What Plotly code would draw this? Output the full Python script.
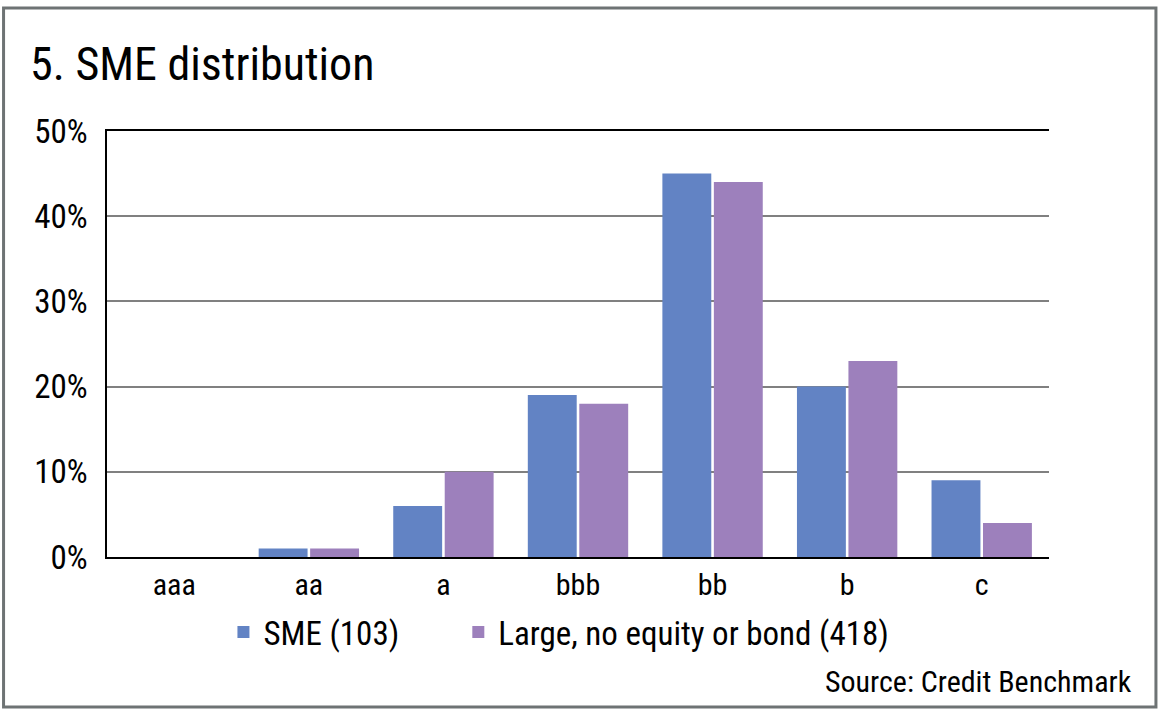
import plotly.graph_objects as go

categories = ["aaa", "aa", "a", "bbb", "bb", "b", "c"]
sme_values = [0, 1, 6, 19, 45, 20, 9]
large_values = [0, 1, 10, 18, 44, 23, 4]
series_names = ["SME (103)", "Large, no equity or bond (418)"]
y_ticks = [0, 10, 20, 30, 40, 50]
y_tick_labels = ["0%", "10%", "20%", "30%", "40%", "50%"]

FONT = "Liberation Sans Narrow, Roboto Condensed, DejaVu Sans Condensed, sans-serif"

fig = go.Figure()
fig.add_trace(go.Bar(x=categories, y=sme_values, name=series_names[0], legend="legend",
                     marker=dict(color="#6283C4", line=dict(width=0))))
fig.add_trace(go.Bar(x=categories, y=large_values, name=series_names[1], legend="legend2",
                     marker=dict(color="#9D80BC", line=dict(width=0))))

L, R, T, B = 106.5, 1049, 131, 557
W, H = 1160, 716
pw, ph = R - L, B - T

def px_x(x):
    return (x - L) / pw

def px_y(y):
    return (B - y) / ph

legend_common = dict(orientation="h", xanchor="left", y=px_y(632), yanchor="middle",
                     font=dict(size=33), bgcolor="rgba(0,0,0,0)", itemwidth=30)

fig.update_layout(
    width=W, height=H,
    margin=dict(l=L, r=W - R, t=T, b=H - B, pad=0),
    paper_bgcolor="white", plot_bgcolor="white",
    font=dict(family=FONT, color="black", size=30),
    barmode="group", bargap=0.235, bargroupgap=0.05,
    title=dict(text="5. SME distribution", x=30 / W, xref="container", xanchor="left",
               y=(H - 64) / H, yref="container", yanchor="middle",
               font=dict(family=FONT, size=46, color="black")),
    showlegend=True,
    legend=dict(x=px_x(223), **legend_common),
    legend2=dict(x=px_x(458), **legend_common),
    xaxis=dict(showline=True, linecolor="black", linewidth=1.5, mirror=True,
               showgrid=False, ticks="", tickfont=dict(size=30), zeroline=False),
    yaxis=dict(range=[0, 50], tickvals=y_ticks, ticktext=y_tick_labels, showline=True,
               linecolor="black", linewidth=1.5, showgrid=True, gridcolor="#808080",
               gridwidth=1.5, zeroline=False, ticks="", ticklabelstandoff=11,
               tickfont=dict(size=33)),
    shapes=[dict(type="rect", xref="paper", yref="paper",
                 x0=px_x(3), x1=px_x(1156), y0=px_y(707), y1=px_y(8),
                 line=dict(color="#6e7374", width=3), fillcolor="rgba(0,0,0,0)", layer="below")],
    annotations=[dict(text="Source: Credit Benchmark", xref="paper", yref="paper",
                      x=px_x(1134), y=px_y(681), xanchor="right", yanchor="middle",
                      showarrow=False, font=dict(family=FONT, size=30, color="black"))],
)

fig.write_html("out.html", config={"displayModeBar": False},
               post_script="document.body.style.margin='0';document.body.style.overflow='hidden';")
